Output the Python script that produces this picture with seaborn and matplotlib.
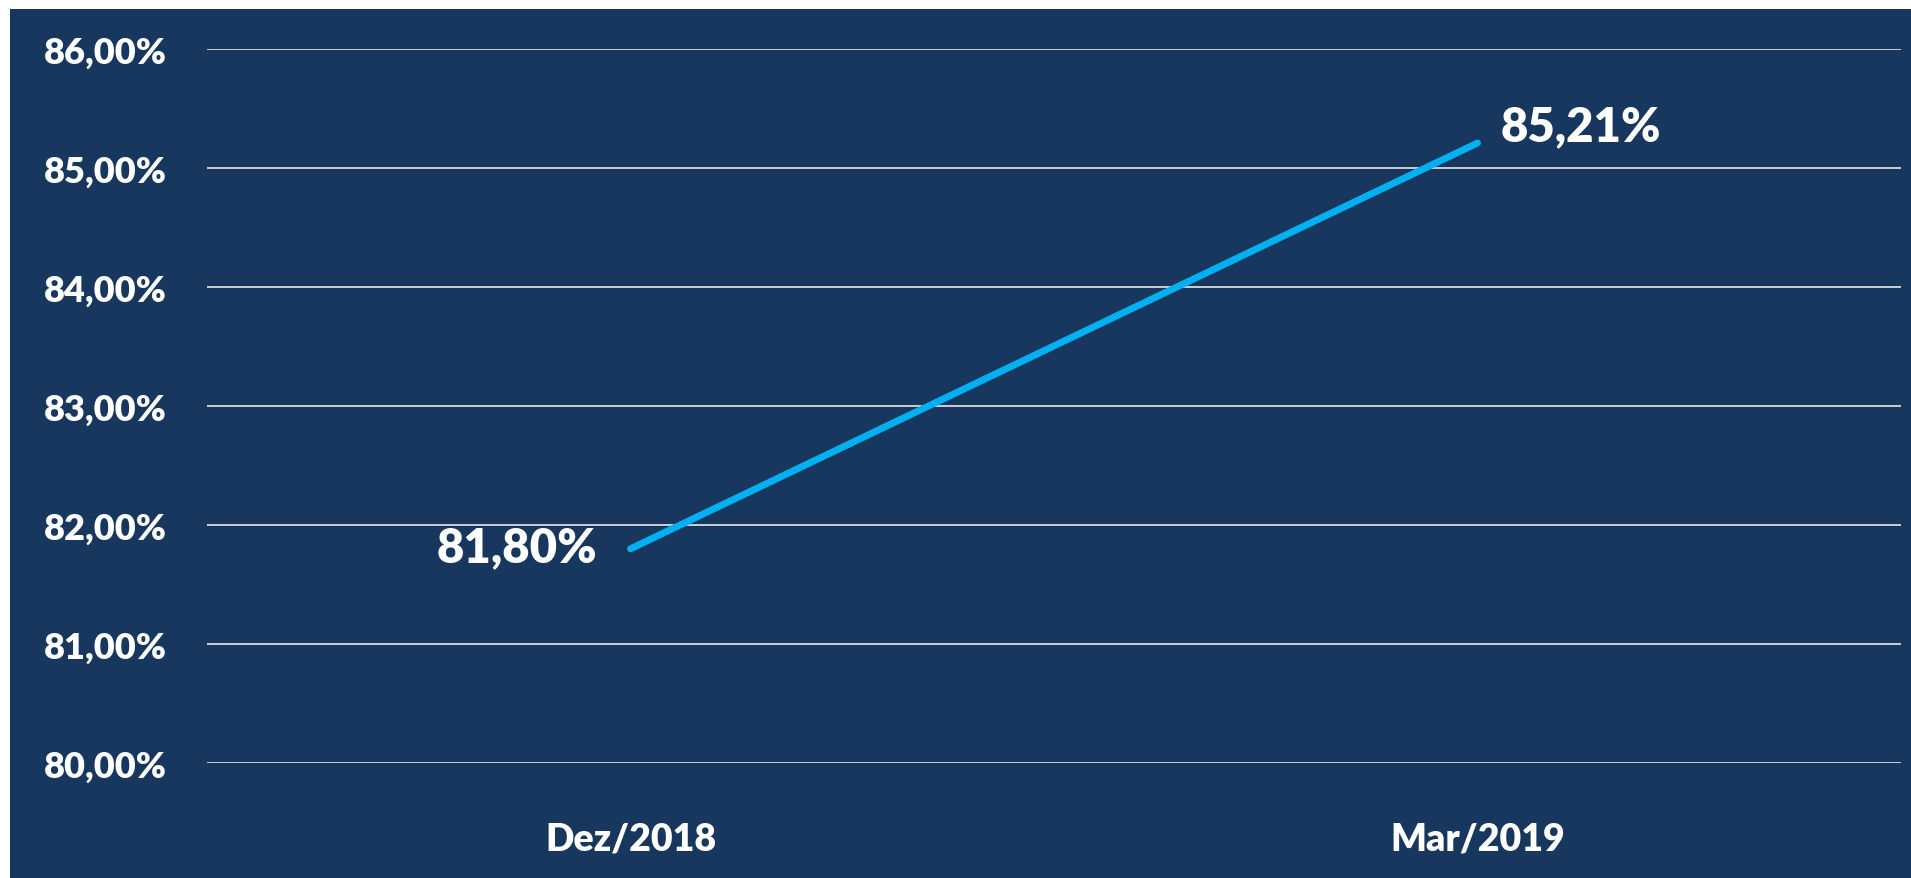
import matplotlib
matplotlib.use("Agg")
import matplotlib.pyplot as plt
import matplotlib.ticker as mticker
from matplotlib.patches import Rectangle
import pandas as pd
import seaborn as sns

# data
periods = ["Dez/2018", "Mar/2019"]
values = [81.80, 85.21]
yticks = [80, 81, 82, 83, 84, 85, 86]

navy = "#17375E"
line_color = "#00B0F0"
grid_color = "#D9D9D9"

df = pd.DataFrame({"Periodo": periods, "Valor": values})

sns.set_theme(style="white")
plt.rcParams["font.family"] = ["Lato", "DejaVu Sans"]

fig = plt.figure(figsize=(19.11, 8.79), dpi=100, facecolor="white")
# navy panel, leaving a thin white strip on top and left
fig.patches.append(Rectangle((10 / 1911, 0), 1, 1 - 10 / 879, transform=fig.transFigure,
                             facecolor=navy, edgecolor="none", zorder=-10))

ax = fig.add_axes([207 / 1911, 1 - 764 / 879, (1901 - 207) / 1911, (764 - 50) / 879])
ax.set_facecolor(navy)

sns.lineplot(data=df, x="Periodo", y="Valor", ax=ax, color=line_color,
             linewidth=5, solid_capstyle="round", zorder=3)

ax.set_xlim(-0.5, 1.5)
ax.set_ylim(80, 86)
ax.set_yticks(yticks)
ax.yaxis.set_major_formatter(mticker.FuncFormatter(lambda v, p: f"{v:.2f}%".replace(".", ",")))
ax.grid(axis="y", color=grid_color, linewidth=1.3)
ax.grid(axis="x", visible=False)
for s in ax.spines.values():
    s.set_visible(False)

ax.tick_params(axis="y", labelsize=26, labelcolor="white", length=0, pad=29)
ax.tick_params(axis="x", labelsize=27, labelcolor="white", length=0, pad=42)
for lbl in ax.get_xticklabels() + ax.get_yticklabels():
    lbl.set_fontweight("heavy")
ax.set_xlabel("")
ax.set_ylabel("")

# data labels
ax.annotate("81,80%", (0, values[0]), xytext=(-24, 1), textcoords="offset points",
            ha="right", va="center", color="white", fontsize=34, fontweight="heavy")
ax.annotate("85,21%", (1, values[1]), xytext=(17, 12), textcoords="offset points",
            ha="left", va="center", color="white", fontsize=34, fontweight="heavy")

fig.savefig("out.png", dpi=100, facecolor=fig.get_facecolor())
